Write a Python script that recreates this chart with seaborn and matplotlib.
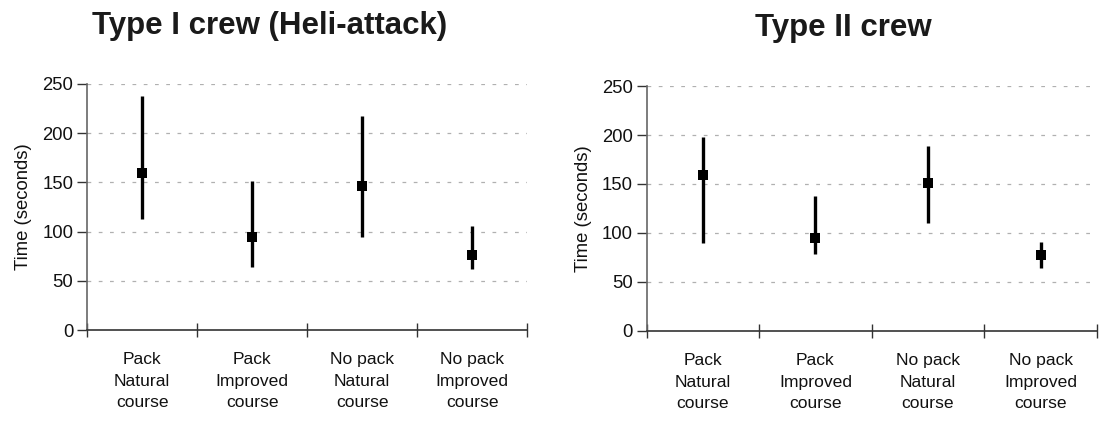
import numpy as np
import pandas as pd
import matplotlib
matplotlib.use("Agg")
import matplotlib.pyplot as plt
import seaborn as sns

# category labels
categories = ["Pack\nNatural\ncourse", "Pack\nImproved\ncourse",
              "No pack\nNatural\ncourse", "No pack\nImproved\ncourse"]

# Type I crew (Heli-attack)
type1_mid = [160, 94, 146, 76]
type1_low = [113, 64, 95, 62]
type1_high = [238, 151, 217, 106]

# Type II crew
type2_mid = [159, 95, 151, 77]
type2_low = [90, 78, 110, 64]
type2_high = [198, 138, 189, 91]

titles = ["Type I crew (Heli-attack)", "Type II crew"]
y_ticks = [0, 50, 100, 150, 200, 250]

sns.set_theme(style="white")
plt.rcParams["font.family"] = ["Liberation Sans", "DejaVu Sans"]

fig = plt.figure(figsize=(11.09, 4.22), dpi=100)
ax1 = fig.add_axes([0.0785, 0.218, 0.397, 0.583])
ax2 = fig.add_axes([0.583, 0.216, 0.406, 0.580])


def draw_panel(ax, mid, low, high, title, title_x):
    pos = np.arange(len(categories))
    df = pd.DataFrame({"pos": pos, "mid": mid, "low": low, "high": high})

    # grid first so it stays behind
    for yv in y_ticks[1:]:
        ax.axhline(yv, color="#b0b0b0", lw=0.9, ls=(0, (3, 6)), zorder=0)

    ax.vlines(df["pos"], df["low"], df["high"], color="black", lw=2.4, zorder=2)
    sns.scatterplot(data=df, x="pos", y="mid", marker="s", s=55, color="black",
                    edgecolor="black", linewidth=0, ax=ax, zorder=3)

    ax.set_xlim(-0.5, len(categories) - 0.5)
    ax.set_ylim(0, 250)
    ax.set_yticks(y_ticks)
    ax.set_yticklabels([str(v) for v in y_ticks], fontsize=13.3, color="#111111")

    # boundary ticks on x axis, labels centered
    ax.set_xticks(np.arange(len(categories) + 1) - 0.5)
    ax.set_xticklabels([])
    ax.set_xticks(pos, minor=True)
    ax.set_xticklabels(categories, minor=True, fontsize=12.6, color="#111111",
                       linespacing=1.55)
    ax.tick_params(axis="x", which="major", bottom=True, direction="inout",
                   length=10, width=1, color="#333333")
    ax.tick_params(axis="x", which="minor", bottom=True, length=0, pad=16)
    ax.tick_params(axis="y", left=True, direction="out", length=7, width=1,
                   color="#333333", pad=3)

    for side in ["top", "right"]:
        ax.spines[side].set_visible(False)
    ax.spines["left"].set_color("#666666")
    ax.spines["bottom"].set_color("#333333")
    ax.spines["left"].set_linewidth(1.2)
    ax.spines["bottom"].set_linewidth(1.2)

    ax.set_xlabel("")
    ax.set_ylabel("Time (seconds)", fontsize=13.3, color="#111111", labelpad=7)
    ax.set_title(title, fontsize=22.5, fontweight="bold", color="#1a1a1a",
                 pad=36, x=title_x)


draw_panel(ax1, type1_mid, type1_low, type1_high, titles[0], 0.414)
draw_panel(ax2, type2_mid, type2_low, type2_high, titles[1], 0.438)

fig.savefig("out.png", dpi=100)
